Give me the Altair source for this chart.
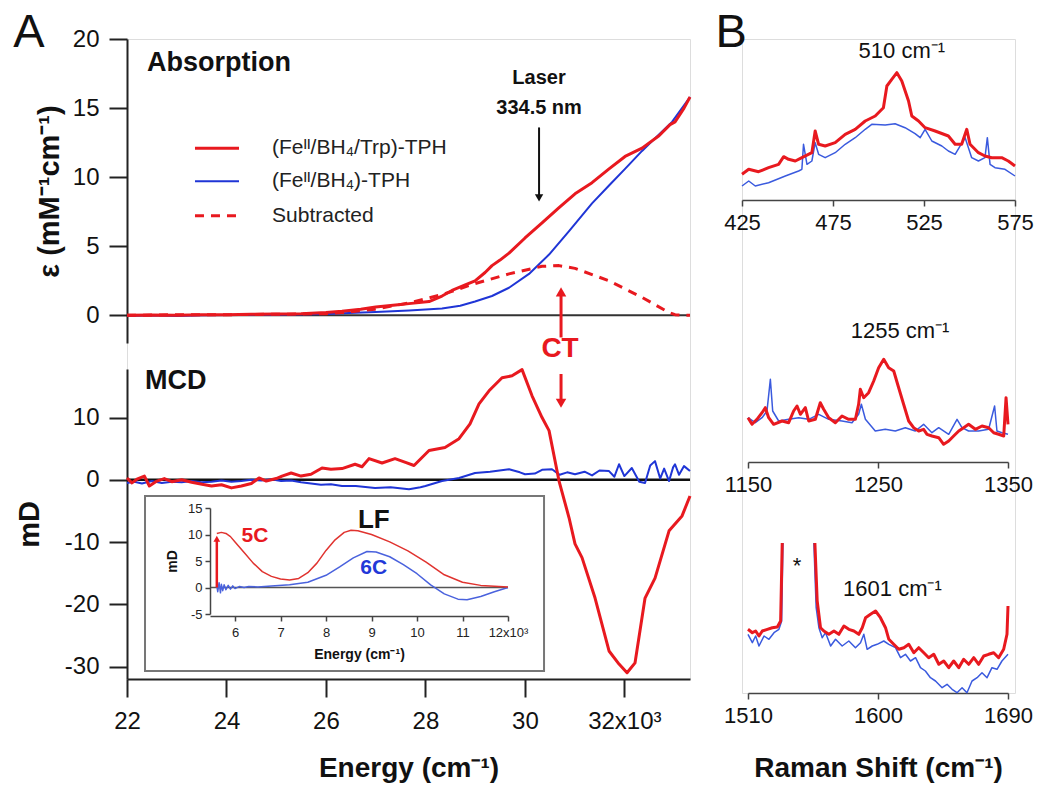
import altair as alt
import pandas as pd

FONT = "Liberation Sans"
RED = "#e8191f"
BLUE = "#1f35d6"
BLUE_B = "#3a5ade"
AX = "#222222"

# ---------------- Panel A : absorption ----------------
abs_trp_E = [22000, 22500, 23000, 23500, 24000, 24500, 25000, 25500, 26000, 26323, 26700, 27000, 27400, 27670,
             28073, 28334, 28535, 28800, 28998, 29200, 29339, 29500, 29681, 30003, 30345, 30687, 31008, 31350,
             31692, 32014, 32356, 32697, 32919, 33019, 33200, 33320]
abs_trp = [0.0, 0.02, 0.0, 0.05, 0.05, 0.08, 0.1, 0.12, 0.2, 0.3, 0.45, 0.6, 0.75, 0.85,
           1.0, 1.4, 1.8, 2.2, 2.5, 3.1, 3.6, 4.0, 4.5, 5.6, 6.7, 7.8, 8.8, 9.6,
           10.6, 11.5, 12.1, 13.0, 13.8, 14.0, 15.0, 15.8]
abs_bh4_E = [22000, 22500, 23000, 23500, 24000, 25000, 26000, 26323, 27000, 27670, 28334, 28700, 28998, 29339,
             29681, 30083, 30486, 30888, 31350, 31692, 32014, 32356, 32697, 32959, 33320]
abs_bh4 = [-0.05, 0.0, -0.05, 0.0, 0.02, 0.05, 0.1, 0.15, 0.25, 0.35, 0.5, 0.7, 1.0, 1.4,
           2.0, 3.0, 4.4, 6.1, 8.1, 9.4, 10.6, 11.9, 13.1, 14.0, 15.8]
abs_sub_E = [22000, 23000, 24000, 25000, 26000, 26323, 26987, 27670, 28334, 28998, 29681, 30345, 30687, 31008,
             31692, 32356, 32899, 33019, 33320]
abs_sub = [0.0, 0.05, 0.05, 0.08, 0.12, 0.2, 0.45, 0.9, 1.5, 2.3, 3.0, 3.55, 3.6, 3.4,
           2.5, 1.3, 0.2, 0.05, 0.0]

legend_labels = ["(Feᴵᴵ/BH₄/Trp)-TPH", "(Feᴵᴵ/BH₄)-TPH", "Subtracted"]
legend_y = [12.1, 9.7, 7.2]

# ---------------- Panel A : MCD ----------------
mcd_trp_E = [22000, 22100, 22200, 22350, 22450, 22600, 22750, 22900, 23100, 23300, 23508, 23700, 23900, 24100,
             24300, 24500, 24654, 24800, 25000, 25117, 25300, 25500, 25700, 25921, 26100, 26323, 26585, 26725,
             26866, 27128, 27389, 27600, 27771, 28073, 28394, 28676, 28897, 29078, 29279, 29541, 29742, 29943,
             30144, 30345, 30486, 30687, 30888, 31008, 31149, 31411, 31692, 31893, 32054, 32215, 32416, 32617,
             32899, 33160, 33320]
mcd_trp = [0.3, -0.5, 0.1, 0.6, -1.0, -0.2, 0.2, -0.3, 0.0, -0.4, -0.7, -1.0, -0.8, -1.3,
           -1.0, -0.6, 0.3, -0.2, 0.2, 0.6, 1.1, 0.6, 0.9, 1.9, 1.7, 1.8, 2.5, 2.1,
           3.4, 2.7, 3.4, 2.8, 2.3, 4.7, 5.2, 6.6, 9.0, 12.2, 14.3, 16.4, 16.7, 17.7,
           13.5, 10.0, 7.9, -0.2, -6.1, -10.3, -12.5, -19.0, -27.5, -29.6, -31.0, -29.4, -19.0, -15.8,
           -8.2, -5.8, -2.6]
mcd_bh4_E = [22000, 22150, 22300, 22500, 22700, 22900, 23100, 23300, 23500, 23700, 23900, 24100, 24300, 24500,
             24700, 24900, 25100, 25300, 25500, 25700, 25900, 26100, 26323, 26600, 26987, 27300, 27670, 27900,
             28000, 28334, 28676, 28998, 29300, 29681, 29900, 30003, 30200, 30345, 30545, 30700, 30850, 31008,
             31200, 31350, 31500, 31692, 31800, 31893, 32000, 32150, 32300, 32416, 32520, 32616, 32720, 32800,
             32899, 32980, 33019, 33100, 33200, 33320]
mcd_bh4 = [-0.5, -0.3, -0.6, -0.2, -0.5, -0.3, -0.4, -0.2, -0.4, -0.3, -0.1, -0.3, -0.2, 0.0,
           -0.1, 0.1, -0.2, -0.1, -0.4, -0.6, -0.8, -0.7, -1.0, -1.0, -1.3, -1.2, -1.5, -1.2,
           -1.0, -0.2, 0.3, 1.1, 1.3, 1.7, 1.2, 0.9, 1.0, 1.6, 1.7, 0.8, 1.2, 0.9,
           1.3, 0.7, 1.5, 1.4, 0.5, 2.5, 0.6, 1.9, -0.3, -0.5, 2.3, 3.0, 0.2, 1.8,
           -0.2, 2.0, 2.5, 0.8, 2.2, 1.4]

# inset (LF region, energy in 10^3 cm-1)
ins_trp_E = [5.6, 5.7, 5.8, 5.9, 6.0, 6.2, 6.4, 6.6, 6.8, 7.0, 7.2, 7.4, 7.6, 7.8, 8.0, 8.2, 8.4, 8.55, 8.7,
             9.0, 9.4, 9.8, 10.2, 10.6, 11.0, 11.4, 11.8, 12.0]
ins_trp = [10.2, 10.4, 10.2, 9.6, 8.6, 6.6, 4.6, 3.0, 2.1, 1.6, 1.4, 1.7, 2.8, 4.6, 7.0, 9.0, 10.4, 10.8, 10.7,
           10.0, 8.6, 6.9, 4.8, 2.4, 1.0, 0.4, 0.2, 0.1]
ins_bh4_E = [5.6, 5.62, 5.65, 5.68, 5.7, 5.73, 5.76, 5.8, 5.85, 5.9, 5.95, 6.0, 6.1, 6.2, 6.3, 6.5, 6.8, 7.2,
             7.6, 8.0, 8.3, 8.6, 8.9, 9.1, 9.4, 9.7, 10.0, 10.3, 10.6, 10.9, 11.1, 11.4, 11.7, 12.0]
ins_bh4 = [0.3, -0.8, 0.9, -1.0, 0.6, -0.6, 0.5, -0.4, 0.4, -0.3, 0.3, -0.2, 0.2, 0.0, 0.2, 0.1, 0.3, 0.5,
           1.0, 2.3, 3.9, 5.6, 6.8, 6.7, 5.8, 4.3, 2.6, 0.5, -1.2, -2.2, -2.3, -1.7, -0.8, 0.0]

# ---------------- Panel B : Raman (arbitrary intensity) ----------------
b1_trp_x = [425, 428.7, 434.1, 439.6, 445.1, 447.9, 450.6, 454.3, 457.9, 463.4, 465.2, 467.1, 470.7, 476.2,
            481.7, 487.2, 492.7, 498.2, 502.7, 504.6, 507.3, 510.1, 512.8, 516.5, 518.3, 522.0, 525.6, 531.1,
            538.4, 542.1, 545.7, 548.5, 550.3, 554.9, 558.5, 562.2, 567.7, 571.3, 575]
b1_trp = [25.7, 30.7, 28.3, 32.3, 35.7, 43.3, 40.7, 39.0, 42.3, 47.3, 69.0, 55.7, 54.0, 57.3,
          65.7, 70.7, 79.0, 84.0, 92.3, 114.0, 120.7, 127.3, 119.0, 99.0, 84.0, 79.0, 72.3, 69.0,
          64.0, 55.7, 55.7, 70.7, 55.7, 47.3, 44.0, 42.3, 42.3, 39.0, 34.0]
b1_bh4_x = [425, 428.7, 432.3, 439.6, 448.8, 456.1, 457.9, 458.8, 460.7, 463.4, 465.2, 467.1, 470.7, 476.2,
            481.7, 487.2, 492.7, 496.3, 503.7, 509.1, 514.6, 520.1, 522.9, 525.6, 529.3, 534.8, 538.4, 542.1,
            547.6, 551.2, 554.9, 558.5, 559.8, 561.3, 564.0, 569.5, 575]
b1_bh4 = [14.0, 19.0, 14.0, 17.3, 24.0, 29.0, 30.7, 55.7, 35.7, 39.0, 57.3, 45.7, 42.3, 47.3,
          55.7, 62.3, 70.7, 75.7, 75.0, 76.3, 72.3, 66.3, 62.3, 70.7, 59.0, 54.0, 49.0, 45.7,
          62.3, 42.3, 39.0, 42.3, 62.3, 35.7, 32.3, 30.7, 24.0]

b2_trp_x = [1150, 1153.1, 1156.9, 1160.8, 1163.3, 1165.9, 1169.7, 1176.2, 1181.3, 1185.1, 1187.7, 1190.3,
            1194.1, 1196.7, 1201.8, 1205.6, 1208.2, 1212.1, 1217.2, 1222.3, 1227.4, 1232.6, 1235.1, 1236.4,
            1239.0, 1242.8, 1246.7, 1250.5, 1254.4, 1258.2, 1262.1, 1265.9, 1269.7, 1273.6, 1277.4, 1281.3,
            1285.1, 1287.7, 1291.5, 1296.7, 1300.5, 1304.4, 1308.2, 1312.1, 1315.9, 1319.7, 1324.9, 1330.0,
            1335.1, 1339.0, 1342.8, 1346.7, 1348.5, 1350]
b2_trp = [44.3, 37.7, 42.7, 49.3, 54.3, 44.3, 37.7, 41.0, 39.3, 51.0, 56.0, 47.7,
          54.3, 41.0, 42.7, 59.3, 52.7, 44.3, 39.3, 46.0, 42.7, 42.7, 57.7, 72.7,
          64.3, 69.3, 81.0, 94.3, 102.7, 94.3, 91.0, 74.3, 57.7, 41.0, 34.3, 31.0,
          32.7, 27.7, 26.0, 24.3, 17.7, 21.0, 26.0, 31.0, 34.3, 37.7, 32.7, 36.0,
          34.3, 29.3, 27.7, 26.0, 64.3, 37.7]
b2_bh4_x = [1150, 1155.6, 1160.8, 1164.6, 1167.2, 1169.0, 1173.6, 1181.3, 1189.0, 1196.7, 1204.4, 1212.1,
            1222.3, 1230.0, 1235.1, 1237.2, 1240.3, 1247.9, 1255.6, 1263.3, 1271.0, 1278.7, 1285.1, 1291.5,
            1296.7, 1304.4, 1310.8, 1314.6, 1319.7, 1327.4, 1335.1, 1339.7, 1341.5, 1345.4, 1350]
b2_bh4 = [44.3, 39.3, 44.3, 51.0, 82.7, 51.0, 41.0, 42.7, 44.3, 42.7, 47.7, 42.7,
          41.0, 39.3, 47.7, 57.7, 42.7, 31.0, 32.7, 31.0, 34.3, 31.0, 37.7, 29.3,
          34.3, 27.7, 42.7, 34.3, 31.0, 31.0, 32.7, 56.0, 31.0, 29.3, 27.7]

# 1601 panel: the solvent band (*) runs off the top of the frame (value 150 = top edge)
b3_trp_x = [1510, 1513.0, 1515.3, 1517.6, 1519.9, 1523.4, 1526.8, 1530.3, 1532.6, 1533.7, 1556.3, 1557.9,
            1560.2, 1562.5, 1566.0, 1569.5, 1572.9, 1576.4, 1579.8, 1583.3, 1586.7, 1589.1, 1591.4, 1594.8,
            1598.3, 1601.7, 1605.2, 1607.5, 1610.9, 1614.4, 1617.9, 1621.3, 1624.8, 1628.2, 1631.7, 1635.1,
            1638.6, 1642.1, 1645.5, 1649.0, 1652.4, 1655.9, 1659.3, 1662.8, 1666.3, 1669.7, 1673.2, 1676.6,
            1680.1, 1683.5, 1687.0, 1689.3, 1690]
b3_trp = [63.7, 60.3, 62.0, 57.0, 62.0, 63.7, 65.3, 66.0, 72.0, 150, 150, 92.0,
          65.3, 62.0, 58.7, 62.0, 58.7, 67.0, 63.7, 62.0, 58.7, 65.3, 75.3, 78.7,
          82.0, 75.3, 65.3, 53.7, 48.7, 43.7, 45.3, 48.7, 40.3, 45.3, 40.3, 35.3,
          38.7, 28.7, 32.0, 25.3, 32.0, 25.3, 33.7, 28.7, 35.3, 28.7, 37.0, 38.7,
          40.3, 35.3, 43.7, 58.7, 87.0]
b3_bh4_x = [1510, 1513.0, 1515.3, 1517.6, 1521.1, 1524.5, 1528.0, 1531.4, 1533.3, 1534.2, 1555.6, 1557.2,
            1559.1, 1561.4, 1563.7, 1567.2, 1570.6, 1575.2, 1579.8, 1584.4, 1587.9, 1590.2, 1592.5, 1596.0,
            1599.4, 1604.0, 1607.5, 1612.1, 1615.6, 1619.0, 1622.5, 1626.0, 1629.4, 1632.8, 1636.3, 1639.8,
            1644.4, 1647.8, 1651.3, 1654.7, 1658.2, 1661.6, 1665.1, 1668.6, 1672.0, 1675.5, 1678.9, 1682.4,
            1685.8, 1690]
b3_bh4 = [58.7, 50.3, 57.0, 47.0, 57.0, 53.7, 60.3, 63.7, 72.0, 150, 150, 85.3,
          65.3, 55.3, 60.3, 47.0, 53.7, 47.0, 52.0, 45.3, 50.3, 58.7, 43.7, 47.0,
          48.7, 52.0, 48.7, 45.3, 35.3, 38.7, 32.0, 35.3, 25.3, 22.0, 15.3, 12.0,
          5.3, 8.7, 3.7, 0.3, 5.3, 0.3, 12.0, 15.3, 20.3, 15.3, 25.3, 23.7,
          32.0, 38.7]
b3_gap = 1545  # the off-scale band splits each trace in two pieces

# ---------------- helpers ----------------
def enc(xs, ys, xax, yax):
    return dict(x=alt.X("x:Q", scale=xs, axis=xax), y=alt.Y("y:Q", scale=ys, axis=yax))


def line(E, V, sc, color, width, dash=None, split=None):
    props = dict(color=color, strokeWidth=width, strokeJoin="round")
    if dash:
        props["strokeDash"] = dash
    df = pd.DataFrame({"x": E, "y": V})
    if split is not None:
        df["seg"] = (df["x"] > split).astype(int)
        return alt.Chart(df).mark_line(**props).encode(detail="seg:N", **enc(*sc))
    return alt.Chart(df).mark_line(**props).encode(**enc(*sc))


def text(xv, yv, t, sc, **mk):
    df = pd.DataFrame({"x": xv, "y": yv, "t": t})
    return alt.Chart(df).mark_text(font=FONT, **mk).encode(text="t:N", **enc(*sc))


def vrule(x, y1, y2, sc, color, width):
    df = pd.DataFrame({"x": [x], "y": [y1], "y2": [y2]})
    return alt.Chart(df).mark_rule(color=color, strokeWidth=width).encode(y2="y2:Q", **enc(*sc))


def hrule(x1, x2, y, sc, color, width, dash=None):
    df = pd.DataFrame({"x": [x1], "x2": [x2], "y": [y]})
    props = dict(color=color, strokeWidth=width)
    if dash:
        props["strokeDash"] = dash
    return alt.Chart(df).mark_rule(**props).encode(x2="x2:Q", **enc(*sc))


def head(x, y, shape, sc, color, size):
    df = pd.DataFrame({"x": [x], "y": [y]})
    return alt.Chart(df).mark_point(shape=shape, filled=True, size=size, color=color, opacity=1,
                                    strokeWidth=0).encode(**enc(*sc))


HYPHEN = "datum.value < 0 ? '-' + abs(datum.value) : '' + datum.value"
common_ax = dict(grid=False, domainColor=AX, tickColor=AX, labelColor="#111111", titleColor="#111111",
                 domainWidth=2, tickWidth=2, labelFont=FONT, titleFont=FONT)

# Panel A is one 563 x 640 frame: absorption on top (0-304 px), MCD below (330-640 px)
W_A, H_A = 563, 640

# ---------------- Absorption ----------------
xAbs = alt.Scale(domain=[22000, 33320], nice=False, zero=False)
yAbs = alt.Scale(domain=[-2, 20], range=[304, 0], nice=False, zero=False)
ax_abs_y = alt.Axis(values=[0, 5, 10, 15, 20], orient="left", title="ε (mM⁻¹cm⁻¹)", tickSize=18,
                    labelFontSize=24, labelPadding=10, titleFontSize=29, titleFontWeight="bold",
                    titlePadding=8, **common_ax)
scA = (xAbs, yAbs, None, ax_abs_y)

abs_group = alt.layer(
    hrule(22000, 33320, 0, scA, "#333333", 2),
    line(abs_bh4_E, abs_bh4, scA, BLUE, 2),
    line(abs_sub_E, abs_sub, scA, RED, 3, dash=[9, 7]),
    line(abs_trp_E, abs_trp, scA, RED, 3),
    hrule(23367, 24252, legend_y[0], scA, RED, 3),
    hrule(23367, 24252, legend_y[1], scA, BLUE, 2),
    hrule(23367, 24252, legend_y[2], scA, RED, 3, dash=[9, 7]),
    text([24916] * 3, legend_y, legend_labels, scA, align="left", baseline="middle", fontSize=21,
         color="#222222"),
    text([22402], [18.26], ["Absorption"], scA, align="left", baseline="middle", fontSize=27,
         fontWeight="bold", color="#111111"),
    text([30285, 30285], [17.17, 15.0], ["Laser", "334.5 nm"], scA, align="center", baseline="middle",
         fontSize=20, fontWeight="bold", color="#111111"),
    vrule(30285, 13.6, 8.7, scA, "#111111", 2),
    head(30285, 8.5, "triangle-down", scA, "#111111", 70),
    vrule(30727, -1.6, 1.5, scA, RED, 3),
    head(30727, 1.7, "triangle-up", scA, RED, 110),
    text([30707], [-2.4], ["CT"], scA, align="center", baseline="middle", fontSize=28, fontWeight="bold",
         color=RED),
    text([20029], [20.43], ["A"], scA, align="center", baseline="middle", fontSize=47, color="#111111"),
)

# ---------------- MCD ----------------
xMcd = alt.Scale(domain=[22000, 33320], nice=False, zero=False)
yMcd = alt.Scale(domain=[-32, 17.8], range=[640, 330], nice=False, zero=False)
ax_mcd_x = alt.Axis(values=[22000, 24000, 26000, 28000, 30000, 32000], orient="bottom",
                    labelExpr="datum.value == 32000 ? '32x10³' : format(datum.value / 1000, 'd')",
                    labelFlush=False, labelOverlap=False,
                    title="Energy (cm⁻¹)", tickSize=18, labelFontSize=24, labelPadding=12,
                    titleFontSize=28, titleFontWeight="bold", titlePadding=21, **common_ax)
ax_mcd_y = alt.Axis(values=[-30, -20, -10, 0, 10], orient="left", title="mD", tickSize=18, labelFontSize=24,
                    labelExpr=HYPHEN, labelPadding=10, titleFontSize=29, titleFontWeight="bold",
                    titlePadding=20, **common_ax)
scM = (xMcd, yMcd, ax_mcd_x, ax_mcd_y)

box = alt.Chart(pd.DataFrame({"x": [22362], "x2": [30385], "y": [-2.6], "y2": [-30.7]})).mark_rect(
    fill="white", stroke="#777777", strokeWidth=2).encode(x2="x2:Q", y2="y2:Q", **enc(*scM))

mcd_group = alt.layer(
    box,
    hrule(22000, 33320, 0, scM, "#111111", 2.5),
    line(mcd_bh4_E, mcd_bh4, scM, BLUE, 2),
    line(mcd_trp_E, mcd_trp, scM, RED, 3),
    text([22362], [15.9], ["MCD"], scM, align="left", baseline="middle", fontSize=27, fontWeight="bold",
         color="#111111"),
    vrule(30727, 17.0, 12.6, scM, RED, 3),
    head(30727, 12.3, "triangle-down", scM, RED, 110),
)

# ---------------- inset ----------------
ixs = alt.Scale(domain=[5.45, 12], range=[83, 381], nice=False, zero=False)
iys = alt.Scale(domain=[-5, 15], range=[575, 469], nice=False, zero=False)
ins_ax = dict(grid=False, domainColor="#444444", tickColor="#444444", labelColor="#222222",
              titleColor="#111111", domainWidth=1.5, tickWidth=1.5, labelFont=FONT, titleFont=FONT,
              tickSize=5, labelFontSize=13, titleFontSize=14, titleFontWeight="bold", zindex=1)
ax_ins_x = alt.Axis(values=[6, 7, 8, 9, 10, 11, 12], orient="bottom", offset=-63,
                    labelExpr="datum.value == 12 ? '12x10³' : datum.label", title="Energy (cm⁻¹)",
                    labelFlush=False, labelOverlap=False, labelPadding=5, titlePadding=8, **ins_ax)
ax_ins_y = alt.Axis(values=[-5, 0, 5, 10, 15], orient="left", offset=-83, title="mD", labelPadding=3,
                    labelExpr=HYPHEN, labelOverlap=False, titlePadding=8, **ins_ax)
scI = (ixs, iys, ax_ins_x, ax_ins_y)

inset_group = alt.layer(
    hrule(5.45, 12.0, 0, scI, "#555555", 1.5),
    line(ins_bh4_E, ins_bh4, scI, "#4a62dd", 1.5),
    line(ins_trp_E, ins_trp, scI, "#e0332f", 1.5),
    vrule(5.6, 0, 9.0, scI, RED, 2.5),
    head(5.6, 9.2, "triangle-up", scI, RED, 45),
    text([6.44], [9.8], ["5C"], scI, align="center", baseline="middle", fontSize=21, fontWeight="bold",
         color=RED),
    text([9.05], [12.8], ["LF"], scI, align="center", baseline="middle", fontSize=26, fontWeight="bold",
         color="#111111"),
    text([9.05], [3.6], ["6C"], scI, align="center", baseline="middle", fontSize=21, fontWeight="bold",
         color="#2238d8"),
)

panelA = alt.layer(abs_group, mcd_group, inset_group).resolve_scale(
    x="independent", y="independent").properties(width=W_A, height=H_A)

# ---------------- Panel B : one 273 x 654 frame holding three spectra ----------------
W_B, H_B = 273, 654
b_ax = dict(grid=False, domainColor="#444444", tickColor="#444444", labelColor="#111111",
            titleColor="#111111", domainWidth=1.5, tickWidth=1.5, labelFont=FONT, titleFont=FONT,
            tickSize=6, labelFontSize=22, labelPadding=6, format="d", orient="bottom",
            labelFlush=False, labelOverlap=False)

bx1 = alt.Scale(domain=[425, 575], range=[0, 273], nice=False, zero=False)
by1 = alt.Scale(domain=[0, 161], range=[161, 0], nice=False, zero=False)
sc1 = (bx1, by1, alt.Axis(values=[425, 475, 525, 575], title=None, offset=-493, **b_ax), None)
b1 = alt.layer(
    line(b1_bh4_x, b1_bh4, sc1, BLUE_B, 1.5),
    line(b1_trp_x, b1_trp, sc1, RED, 3),
    text([512.8], [149], ["510 cm⁻¹"], sc1, align="center", baseline="middle", fontSize=22,
         color="#111111"),
    text([419], [167], ["B"], sc1, align="center", baseline="middle", fontSize=47, color="#111111"),
)

bx2 = alt.Scale(domain=[1150, 1350], range=[6, 266], nice=False, zero=False)
by2 = alt.Scale(domain=[0, 232], range=[423, 191], nice=False, zero=False)
sc2 = (bx2, by2, alt.Axis(values=[1150, 1250, 1350], title=None, offset=-231, **b_ax), None)
b2 = alt.layer(
    line(b2_bh4_x, b2_bh4, sc2, BLUE_B, 1.5),
    line(b2_trp_x, b2_trp, sc2, RED, 3),
    text([1267], [131], ["1255 cm⁻¹"], sc2, align="center", baseline="middle", fontSize=22,
         color="#111111"),
)

bx3 = alt.Scale(domain=[1510, 1690], range=[6, 266], nice=False, zero=False)
by3 = alt.Scale(domain=[0, 150], range=[654, 504], nice=False, zero=False)
sc3 = (bx3, by3, alt.Axis(values=[1510, 1600, 1690], title="Raman Shift (cm⁻¹)", titleFontSize=28,
                          titleFontWeight="bold", titlePadding=28, offset=0, **b_ax), None)
b3 = alt.layer(
    line(b3_bh4_x, b3_bh4, sc3, BLUE_B, 1.5, split=b3_gap),
    line(b3_trp_x, b3_trp, sc3, RED, 3, split=b3_gap),
    text([1544], [127], ["*"], sc3, align="center", baseline="middle", fontSize=22, color="#111111"),
    text([1610], [103.7], ["1601 cm⁻¹"], sc3, align="center", baseline="middle", fontSize=22,
         color="#111111"),
)

panelB = alt.layer(b1, b2, b3).resolve_scale(x="independent", y="independent").properties(
    width=W_B, height=H_B)

chart = alt.hconcat(panelA, panelB, spacing=52, bounds="flush").properties(
    padding={"left": 4, "top": 0, "right": 0, "bottom": 0}
).configure_view(stroke=None).configure(font=FONT)

chart.save("out.html", embed_options={"renderer": "svg", "actions": False})
